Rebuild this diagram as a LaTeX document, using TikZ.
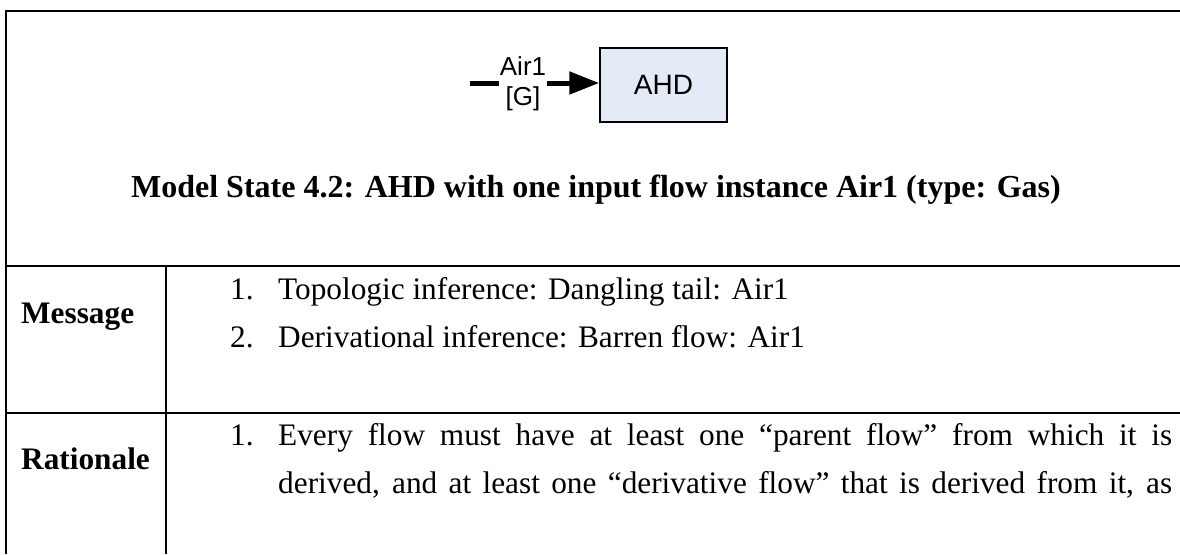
\documentclass[tikz,border=0pt]{standalone}
\usepackage{fontspec}
\setmainfont{Liberation Serif}
\newfontfamily\arialfont{Liberation Sans}
\usetikzlibrary{arrows.meta}
\definecolor{boxfill}{HTML}{E3EBF7}
\begin{document}
\begin{tikzpicture}[x=1pt,y=-1pt,
  rule/.style={line width=2.5pt},
  flowline/.style={line width=5pt},
  body/.style={anchor=base west, inner sep=0pt, font=\fontsize{31.3}{37}\selectfont},
  bodyb/.style={anchor=base west, inner sep=0pt, font=\fontsize{31.3}{37}\selectfont\bfseries},
  unitbox/.style={draw, line width=1.5pt, fill=boxfill, minimum width=127pt, minimum height=74pt, inner sep=0pt, font=\arialfont\fontsize{28}{32}\selectfont},
  flowlbl/.style={align=center, inner sep=1pt, font=\arialfont\fontsize{26}{30}\selectfont}]
\useasboundingbox (0,0) rectangle (1180,554);
% table rules
\draw[rule] (6,554) -- (6,11) -- (1180,11);
\draw[rule] (6,266) -- (1180,266);
\draw[rule] (6,413) -- (1180,413);
\draw[rule] (166,266) -- (166,554);
% diagram
\node[unitbox] (ahd) at (663.5,85) {AHD};
\coordinate (tail) at (470,83);
\node[flowlbl] (lbl) at (523,84) {Air1\\{}{[G]}};
\draw[flowline] (tail) -- (tail -| lbl.west);
\draw[flowline,-{Triangle[length=30pt,width=22pt]}] (lbl.east |- tail) -- (tail -| ahd.west);
% title
\node[anchor=base, inner sep=0pt, font=\fontsize{32}{38}\selectfont\bfseries] (title) at (596,197) {Model State 4.2: AHD with one input flow instance Air1 (type: Gas)};
% message row
\node[bodyb] (msg) at (21,323) {Message};
\node[body] (m1n) at (230,299) {1.};
\node[body] (m1) at (278,299) {Topologic inference: Dangling tail: Air1};
\node[body] (m2n) at (230,347) {2.};
\node[body] (m2) at (278,347) {Derivational inference: Barren flow: Air1};
% rationale row
\node[bodyb] (rat) at (21,469) {Rationale};
\node[body] (r1n) at (230,445) {1.};
\node[body] (r1) at (278,445) {\makebox[894pt][s]{Every flow must have at least one “parent flow” from which it is}};
\node[body] (r2) at (278,493) {\makebox[894pt][s]{derived, and at least one “derivative flow” that is derived from it, as}};
\end{tikzpicture}
\end{document}
